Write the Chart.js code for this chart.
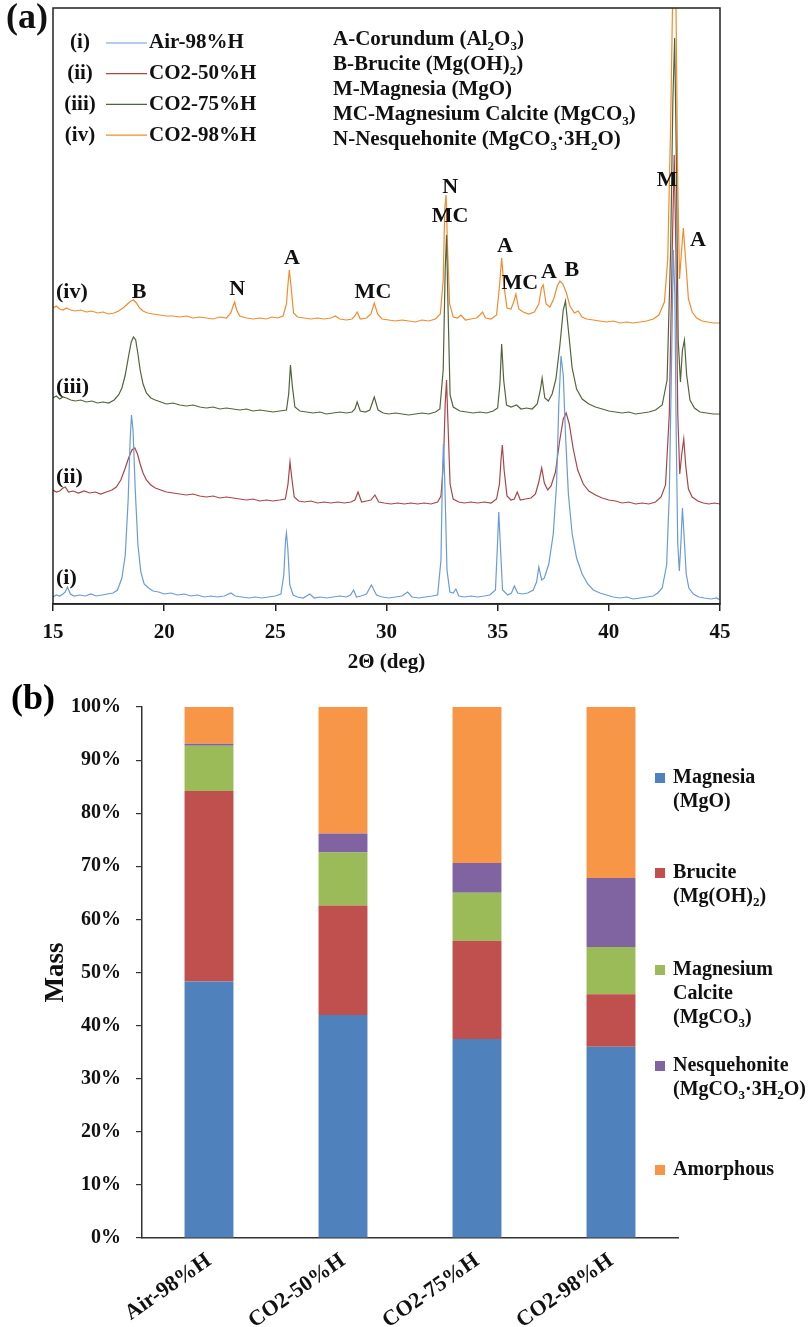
<!DOCTYPE html>
<html>
<head>
<meta charset="utf-8">
<script src="https://cdn.jsdelivr.net/npm/chart.js@4.4.1/dist/chart.umd.min.js"></script>
<style>
  html, body { margin: 0; padding: 0; background: #fff; }
  #wrap { position: relative; width: 808px; height: 1327px; overflow: hidden; background: #fff; }
  canvas { position: absolute; left: 0; }
  #xrd { top: 0; }
  #mass { top: 680px; }
</style>
</head>
<body>
<div id="wrap">
  <canvas id="xrd" width="808" height="680"></canvas>
  <canvas id="mass" width="808" height="647"></canvas>
</div>
<script>
// ---------- XRD patterns: [2θ (deg), intensity (a.u., stacked offset)] ----------
const airPattern = [[15.00,7],[15.15,9],[15.30,8],[15.45,10],[15.55,12],[15.65,17],[15.78,10],[15.95,8],[16.20,9],[16.45,8],[16.70,10],[16.95,8],[17.20,9],[17.45,10],[17.70,11],[17.90,14],[18.10,26],[18.25,49],[18.38,104],[18.47,164],[18.53,189],[18.60,174],[18.70,114],[18.82,59],[18.95,32],[19.10,20],[19.30,16],[19.50,13],[19.75,12],[20.00,10],[20.30,11],[20.60,9],[20.90,10],[21.20,8],[21.50,9],[21.80,7],[22.10,8],[22.40,7],[22.70,8],[23.00,11],[23.20,8],[23.50,7],[23.80,6],[24.10,7],[24.40,6],[24.70,7],[25.00,8],[25.25,10],[25.38,29],[25.46,64],[25.50,71],[25.56,56],[25.65,19],[25.80,9],[26.00,7],[26.25,6],[26.55,10],[26.75,6],[27.00,7],[27.30,6],[27.60,7],[27.90,8],[28.20,7],[28.38,9],[28.52,14],[28.65,7],[28.85,8],[29.10,10],[29.32,19],[29.55,9],[29.80,7],[30.10,6],[30.40,7],[30.70,8],[30.95,12],[31.15,7],[31.45,6],[31.75,7],[32.05,8],[32.30,9],[32.45,44],[32.52,134],[32.56,160],[32.62,124],[32.72,34],[32.85,12],[33.00,11],[33.12,15],[33.25,8],[33.50,7],[33.80,8],[34.10,7],[34.40,8],[34.65,9],[34.90,14],[35.00,64],[35.05,92],[35.12,59],[35.22,14],[35.45,9],[35.62,11],[35.75,18],[35.90,11],[36.10,10],[36.35,11],[36.60,14],[36.75,22],[36.85,37],[36.98,24],[37.10,26],[37.30,40],[37.50,70],[37.65,120],[37.75,200],[37.85,248],[37.95,229],[38.05,170],[38.18,110],[38.35,70],[38.55,46],[38.80,30],[39.05,20],[39.30,14],[39.60,11],[39.90,9],[40.20,7],[40.50,6],[40.80,7],[41.10,5],[41.40,6],[41.70,7],[42.00,8],[42.20,11],[42.40,16],[42.60,39],[42.72,110],[42.82,240],[42.90,354],[42.97,310],[43.03,170],[43.10,60],[43.17,33],[43.24,60],[43.31,96],[43.38,70],[43.48,30],[43.60,16],[43.80,10],[44.05,7],[44.30,6],[44.60,5],[44.85,6],[45.00,4]];

const co2h50Pattern = [[15.00,114],[15.15,112],[15.30,113],[15.45,116],[15.55,117],[15.70,112],[15.90,113],[16.15,111],[16.40,113],[16.65,111],[16.90,112],[17.15,110],[17.40,112],[17.65,114],[17.85,117],[18.05,124],[18.25,136],[18.40,146],[18.55,154],[18.68,156],[18.80,150],[18.92,140],[19.05,131],[19.20,124],[19.40,119],[19.60,116],[19.85,114],[20.10,112],[20.40,111],[20.70,110],[21.00,109],[21.30,110],[21.60,108],[21.90,107],[22.20,108],[22.50,106],[22.80,107],[23.10,106],[23.40,105],[23.70,104],[24.00,105],[24.30,103],[24.60,104],[24.90,103],[25.20,104],[25.45,105],[25.57,120],[25.66,142],[25.74,126],[25.85,107],[26.05,103],[26.30,102],[26.60,103],[26.90,101],[27.20,102],[27.50,101],[27.80,102],[28.10,101],[28.40,102],[28.58,104],[28.72,112],[28.88,102],[29.10,103],[29.30,104],[29.48,109],[29.65,102],[29.90,101],[30.20,100],[30.50,101],[30.80,100],[31.10,101],[31.40,100],[31.70,101],[32.00,100],[32.30,102],[32.45,108],[32.56,140],[32.64,200],[32.70,224],[32.76,184],[32.86,120],[33.00,105],[33.25,102],[33.50,101],[33.80,102],[34.10,101],[34.40,102],[34.70,101],[34.95,105],[35.08,120],[35.15,144],[35.21,159],[35.29,134],[35.42,108],[35.60,104],[35.75,105],[35.88,112],[36.02,104],[36.25,105],[36.50,106],[36.70,110],[36.85,122],[36.98,136],[37.10,121],[37.25,114],[37.40,118],[37.60,132],[37.78,162],[37.95,185],[38.08,191],[38.22,180],[38.40,155],[38.60,134],[38.85,120],[39.10,113],[39.40,109],[39.70,106],[40.00,104],[40.30,103],[40.60,101],[40.90,102],[41.20,100],[41.50,101],[41.80,100],[42.10,102],[42.35,107],[42.55,119],[42.72,190],[42.84,340],[42.94,449],[43.02,350],[43.10,190],[43.19,130],[43.28,150],[43.37,165],[43.46,138],[43.58,115],[43.75,107],[44.00,103],[44.25,101],[44.50,100],[44.75,101],[45.00,100]];

const co2h75Pattern = [[15.00,206],[15.15,208],[15.30,205],[15.45,207],[15.60,206],[15.80,204],[16.00,203],[16.25,204],[16.50,202],[16.75,203],[17.00,201],[17.25,202],[17.50,201],[17.75,204],[17.95,209],[18.10,216],[18.25,229],[18.40,248],[18.52,262],[18.62,267],[18.72,264],[18.82,250],[18.92,234],[19.05,220],[19.20,211],[19.40,206],[19.60,204],[19.85,202],[20.10,200],[20.40,201],[20.70,199],[21.00,198],[21.30,199],[21.60,197],[21.90,196],[22.20,197],[22.50,195],[22.80,196],[23.10,195],[23.40,194],[23.70,195],[24.00,193],[24.30,194],[24.60,193],[24.90,192],[25.20,193],[25.50,194],[25.60,210],[25.68,239],[25.76,219],[25.88,197],[26.10,193],[26.40,192],[26.70,191],[27.00,192],[27.30,190],[27.60,191],[27.90,192],[28.20,191],[28.45,192],[28.58,195],[28.68,202],[28.82,193],[29.05,192],[29.25,194],[29.45,207],[29.62,194],[29.85,191],[30.10,190],[30.40,191],[30.70,190],[31.00,189],[31.30,190],[31.60,191],[31.90,190],[32.20,192],[32.40,195],[32.55,234],[32.64,334],[32.70,369],[32.76,304],[32.86,209],[33.00,197],[33.30,193],[33.60,192],[33.90,191],[34.20,192],[34.50,191],[34.80,193],[35.00,196],[35.10,220],[35.18,260],[35.27,224],[35.40,199],[35.60,197],[35.85,199],[36.05,195],[36.30,196],[36.55,195],[36.78,200],[36.92,214],[37.00,226],[37.12,206],[37.28,203],[37.45,210],[37.62,225],[37.80,259],[37.95,294],[38.05,303],[38.18,274],[38.35,236],[38.55,215],[38.80,205],[39.10,200],[39.40,197],[39.70,195],[40.00,193],[40.30,192],[40.60,191],[40.90,192],[41.20,190],[41.50,191],[41.80,192],[42.10,194],[42.40,199],[42.62,224],[42.78,354],[42.88,504],[42.96,566],[43.03,454],[43.12,264],[43.22,222],[43.31,254],[43.40,264],[43.50,229],[43.65,204],[43.85,196],[44.10,192],[44.40,191],[44.70,190],[45.00,190]];

const co2h98Pattern = [[15.00,296],[15.15,298],[15.30,295],[15.45,294],[15.60,296],[15.80,294],[16.00,293],[16.25,294],[16.50,292],[16.75,293],[17.00,291],[17.25,292],[17.50,290],[17.75,291],[17.95,293],[18.15,296],[18.35,300],[18.50,303],[18.62,304],[18.75,301],[18.90,296],[19.05,293],[19.25,291],[19.50,290],[19.80,289],[20.10,288],[20.40,288],[20.70,287],[21.00,288],[21.30,286],[21.60,287],[21.90,286],[22.20,285],[22.50,287],[22.80,286],[23.00,291],[23.10,298],[23.17,302],[23.26,294],[23.40,288],[23.70,286],[24.00,285],[24.30,286],[24.60,285],[24.85,287],[25.10,286],[25.35,288],[25.50,300],[25.57,320],[25.63,334],[25.70,319],[25.82,291],[26.00,287],[26.30,286],[26.60,285],[26.90,286],[27.20,285],[27.50,286],[27.70,288],[27.90,285],[28.20,284],[28.45,285],[28.58,288],[28.68,292],[28.82,285],[29.10,286],[29.30,290],[29.45,301],[29.60,290],[29.80,285],[30.10,284],[30.40,283],[30.70,284],[31.00,283],[31.30,282],[31.60,284],[31.90,283],[32.20,285],[32.42,290],[32.55,324],[32.62,395],[32.68,409],[32.74,360],[32.84,300],[33.00,287],[33.20,286],[33.35,289],[33.55,284],[33.80,285],[34.05,286],[34.20,289],[34.32,292],[34.45,286],[34.70,285],[34.95,289],[35.07,315],[35.18,346],[35.28,319],[35.42,296],[35.60,295],[35.72,302],[35.82,310],[35.95,295],[36.15,292],[36.40,290],[36.65,292],[36.85,300],[36.97,316],[37.05,319],[37.18,300],[37.35,297],[37.52,305],[37.68,318],[37.80,323],[37.93,320],[38.08,312],[38.25,298],[38.45,291],[38.62,293],[38.80,287],[39.00,285],[39.30,284],[39.60,283],[39.90,282],[40.20,283],[40.50,281],[40.80,282],[41.10,281],[41.40,282],[41.70,283],[42.00,285],[42.25,289],[42.50,302],[42.65,345],[42.78,480],[42.88,620],[42.95,660],[43.02,600],[43.10,420],[43.18,325],[43.26,350],[43.35,376],[43.45,345],[43.58,305],[43.75,292],[43.95,286],[44.20,283],[44.45,282],[44.70,281],[45.00,281]];

const xrdSeriesNames = ['Air-98%H', 'CO2-50%H', 'CO2-75%H', 'CO2-98%H'];
const xrdRomans = ['(i)', '(ii)', '(iii)', '(iv)'];
const twoThetaTicks = [15, 20, 25, 30, 35, 40, 45];

// Phase key and peak identifications
const phaseKey = ['A-Corundum (Al_2O_3)', 'B-Brucite (Mg(OH)_2)', 'M-Magnesia (MgO)',
                  'MC-Magnesium Calcite (MgCO_3)', 'N-Nesquehonite (MgCO_3·3H_2O)'];
const peakTags = ['B', 'N', 'A', 'MC', 'N', 'MC', 'A', 'MC', 'A', 'B', 'M', 'A'];
const peakTagAngle = [18.87, 23.28, 25.75, 29.39, 32.86, 32.86, 35.33, 36.00, 37.31, 38.34, 42.62, 44.01];
const peakTagLevel = [312, 315, 346, 312, 417, 388, 358, 321, 332, 334, 424, 364];
const curveTagLevel = [26, 127, 217, 312];

// ---------- Phase mass fractions (%) ----------
const samples = ['Air-98%H', 'CO2-50%H', 'CO2-75%H', 'CO2-98%H'];
const magnesia = [48.3, 42.0, 37.5, 36.0];
const brucite = [35.9, 20.6, 18.5, 9.9];
const magnesiumCalcite = [8.5, 10.0, 9.0, 8.9];
const nesquehonite = [0.4, 3.6, 5.6, 13.0];
const amorphous = [6.9, 23.8, 29.4, 32.2];
const massTicks = [0, 10, 20, 30, 40, 50, 60, 70, 80, 90, 100];
const phaseLegend = [['Magnesia', '(MgO)'], ['Brucite', '(Mg(OH)_2)'], ['Magnesium', 'Calcite', '(MgCO_3)'],
                     ['Nesquehonite', '(MgCO_3·3H_2O)'], ['Amorphous']];

// ---------- styling ----------
const SERIF = '"Liberation Serif", "Times New Roman", serif';
const INK = '#111';
const xrdColors = ['#6A9BD6', '#A84548', '#52653A', '#F28B2C'];
const barColors = ['#4F81BD', '#C0504D', '#9BBB59', '#8064A2', '#F79646'];
const boldFont = (size) => 'bold ' + size + 'px ' + SERIF;

// text with '_' marking the next character as a subscript
function richRuns(text) {
  const runs = [];
  for (let i = 0; i < text.length; i++) {
    if (text[i] === '_' && i + 1 < text.length) { runs.push({ t: text[i + 1], sub: true }); i++; }
    else if (runs.length && !runs[runs.length - 1].sub) runs[runs.length - 1].t += text[i];
    else runs.push({ t: text[i], sub: false });
  }
  return runs;
}
function drawRich(ctx, text, x, y, size, align) {
  const runs = richRuns(text);
  const sub = Math.round(size * 0.64);
  let total = 0;
  runs.forEach(r => { ctx.font = boldFont(r.sub ? sub : size); r.w = ctx.measureText(r.t).width; total += r.w; });
  let cx = align === 'center' ? x - total / 2 : align === 'right' ? x - total : x;
  ctx.textAlign = 'left';
  ctx.textBaseline = 'middle';
  runs.forEach(r => {
    ctx.font = boldFont(r.sub ? sub : size);
    ctx.fillText(r.t, cx, r.sub ? y + size * 0.3 : y);
    cx += r.w;
  });
}

// ---------- panel (a): XRD ----------
const xrdAnnotations = {
  id: 'xrdAnnotations',
  afterDraw(chart) {
    const { ctx, chartArea: a, scales: { x, y } } = chart;
    ctx.save();
    ctx.strokeStyle = '#222';
    ctx.lineWidth = 1.5;
    ctx.strokeRect(a.left, a.top, a.right - a.left, a.bottom - a.top);
    ctx.fillStyle = INK;

    drawRich(ctx, '(a)', 6, 19, 36, 'left');

    // sample key
    xrdSeriesNames.forEach((name, i) => {
      const rowY = 43 + i * 30.7;
      ctx.fillStyle = INK;
      drawRich(ctx, xrdRomans[i], 80, rowY, 21, 'center');
      ctx.strokeStyle = xrdColors[i];
      ctx.lineWidth = 1.2;
      ctx.beginPath(); ctx.moveTo(106, rowY); ctx.lineTo(147, rowY); ctx.stroke();
      drawRich(ctx, name, 149, rowY, 21, 'left');
    });

    // phase key
    ctx.fillStyle = INK;
    phaseKey.forEach((t, i) => drawRich(ctx, t, 333, 40 + i * 25, 21, 'left'));

    // peak identifications
    peakTags.forEach((t, i) => {
      drawRich(ctx, t, x.getPixelForValue(peakTagAngle[i]), y.getPixelForValue(peakTagLevel[i]), 22, 'center');
    });
    // curve tags
    xrdRomans.forEach((t, i) => {
      drawRich(ctx, t, a.left + 3, y.getPixelForValue(curveTagLevel[i]), 22, 'left');
    });
    ctx.restore();
  }
};

const toPoints = (pairs) => pairs.map(([x, y]) => ({ x, y }));

new Chart(document.getElementById('xrd'), {
  type: 'line',
  data: {
    datasets: [airPattern, co2h50Pattern, co2h75Pattern, co2h98Pattern].map((p, i) => ({
      label: xrdSeriesNames[i],
      data: toPoints(p),
      borderColor: xrdColors[i],
      borderWidth: 1.2,
      pointRadius: 0,
      tension: 0,
      fill: false
    }))
  },
  options: {
    responsive: false,
    animation: false,
    layout: { padding: { left: 53, right: 88, top: 8, bottom: 0 } },
    plugins: { legend: { display: false }, tooltip: { enabled: false } },
    scales: {
      x: {
        type: 'linear', min: 15, max: 45,
        afterBuildTicks: (s) => { s.ticks = twoThetaTicks.map(v => ({ value: v })); },
        ticks: { font: { family: SERIF, size: 21, weight: 'bold' }, color: INK, padding: 9 },
        grid: { drawOnChartArea: false, drawTicks: true, tickLength: 7, color: '#222', lineWidth: 1.5 },
        border: { color: '#222', width: 1.5 },
        title: { display: true, text: '2Θ (deg)', color: INK, font: { family: SERIF, size: 21, weight: 'bold' }, padding: { top: 0, bottom: 5 } },
        afterFit: (s) => { s.height = 76; }
      },
      y: { display: false, min: 0, max: 596 }
    }
  },
  plugins: [xrdAnnotations]
});

// ---------- panel (b): phase fractions ----------
const massLegend = {
  id: 'massLegend',
  afterDraw(chart) {
    const { ctx } = chart;
    const entryTop = [98, 193, 290, 386, 490];
    ctx.save();
    drawRich(ctx, '(b)', 11, 20, 36, 'left');
    chart.data.datasets.forEach((ds, i) => {
      ctx.fillStyle = ds.backgroundColor;
      ctx.fillRect(655, entryTop[i] - 5, 10, 10);
      ctx.fillStyle = INK;
      phaseLegend[i].forEach((line, k) => drawRich(ctx, line, 673, entryTop[i] + k * 24, 20, 'left'));
    });
    ctx.restore();
  }
};

const phaseSeries = [magnesia, brucite, magnesiumCalcite, nesquehonite, amorphous];
new Chart(document.getElementById('mass'), {
  type: 'bar',
  data: {
    labels: samples,
    datasets: phaseSeries.map((vals, i) => ({
      label: phaseLegend[i].join(' ').replace(/_/g, ''),
      data: vals,
      backgroundColor: barColors[i],
      borderWidth: 0,
      barPercentage: 0.365,
      categoryPercentage: 1.0
    }))
  },
  options: {
    responsive: false,
    animation: false,
    layout: { padding: { left: 0, right: 130, top: 27, bottom: 0 } },
    plugins: { legend: { display: false }, tooltip: { enabled: false } },
    scales: {
      x: {
        stacked: true,
        grid: { display: false },
        border: { color: '#333', width: 1.5 },
        ticks: { font: { family: SERIF, size: 22, weight: 'bold' }, color: INK, minRotation: 35, maxRotation: 35, padding: 2 },
        afterFit: (s) => { s.height = 89; }
      },
      y: {
        stacked: true, min: 0, max: 100,
        afterBuildTicks: (s) => { s.ticks = massTicks.map(v => ({ value: v })); },
        ticks: { font: { family: SERIF, size: 20, weight: 'bold' }, color: INK, padding: 15, callback: (v) => v + '%' },
        grid: { drawOnChartArea: false, drawTicks: true, tickLength: 6, color: '#333', lineWidth: 1.2 },
        border: { color: '#333', width: 1.5 },
        title: { display: true, text: 'Mass', color: INK, font: { family: SERIF, size: 27, weight: 'bold' }, padding: { top: 40, bottom: 0 } },
        afterFit: (s) => { s.width = 142; }
      }
    }
  },
  plugins: [massLegend]
});
</script>
</body>
</html>
